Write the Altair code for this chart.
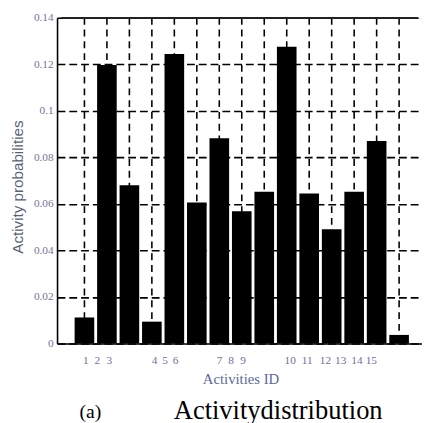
import json
import altair as alt
import pandas as pd

# ---- data ----
activity_ids = list(range(1, 16))
probabilities = [0.0112, 0.1197, 0.0680, 0.0094, 0.1244, 0.0606, 0.0882, 0.0569,
                 0.0652, 0.1276, 0.0645, 0.0491, 0.0652, 0.0871, 0.0037]
grid_ids = list(range(1, 16))
y_ticks = [0, 0.02, 0.04, 0.06, 0.08, 0.10, 0.12, 0.14]
x_tick_labels = [str(i) for i in range(1, 16)]
x_tick_positions = [1.04, 1.55, 2.08, 4.10, 4.56, 5.03, 6.99, 7.50, 8.03,
                    10.13, 10.89, 11.70, 12.38, 13.10, 13.74]
x_max = 15.8
y_max = 0.14
caption_label = ["(a)"]
caption_text = ["Activitydistribution"]

bars_df = pd.DataFrame({"id": activity_ids, "p": probabilities})
grid_df = pd.DataFrame({"id": grid_ids})
cap_a_df = pd.DataFrame({"t": caption_label})
cap_b_df = pd.DataFrame({"t": caption_text})

label_expr = "{}[indexof({}, datum.value)]".format(
    json.dumps(x_tick_labels), json.dumps(x_tick_positions))

x_scale = alt.Scale(domain=[0, x_max], nice=False, zero=False)
y_scale = alt.Scale(domain=[0, y_max], nice=False)

x_axis = alt.Axis(
    values=x_tick_positions, labelExpr=label_expr, grid=False, ticks=False,
    domainColor="black", domainWidth=1.6,
    labelFont="Liberation Serif", labelFontSize=11.5, labelColor="#6f6f98",
    labelPadding=11, labelOverlap=False, labelFlush=False,
    title="Activities ID", titleFont="Liberation Serif", titleFontSize=15,
    titleFontWeight="normal", titleColor="#5a6a98",
    titleX=187, titleY=36, titleBaseline="middle", titleAlign="center",
)
y_axis = alt.Axis(
    values=y_ticks, format=".2~f", grid=True, gridDash=[8, 4], gridColor="black",
    gridWidth=1.6, gridOpacity=1, ticks=False,
    domainColor="black", domainWidth=1.6,
    labelFont="Liberation Serif", labelFontSize=11.5, labelColor="#76729a",
    labelPadding=4,
    title="Activity probabilities", titleFont="Liberation Sans", titleFontSize=15.5,
    titleFontWeight="normal", titleColor="#5a5f78",
    titleAngle=-90, titleX=-40, titleY=172, titleAlign="center",
    titleBaseline="middle",
)

vgrid = alt.Chart(grid_df).mark_rule(
    color="black", strokeDash=[7, 5], strokeWidth=1.6
).encode(x=alt.X("id:Q", scale=x_scale, axis=None))

bars = alt.Chart(bars_df).mark_bar(color="black", size=20).encode(
    x=alt.X("id:Q", scale=x_scale, axis=x_axis),
    y=alt.Y("p:Q", scale=y_scale, axis=y_axis),
)

top_border = alt.Chart(grid_df).mark_rule(color="#222222", strokeWidth=1.8).encode(
    x=alt.XDatum(0, axis=None),
    x2=alt.X2Datum(x_max),
    y=alt.YDatum(y_max, axis=None),
)

cap_a = alt.Chart(cap_a_df).mark_text(
    font="Liberation Serif", fontSize=20, color="black", align="center",
    baseline="alphabetic"
).encode(text="t:N", x=alt.value(34), y=alt.value(408))

cap_b = alt.Chart(cap_b_df).mark_text(
    font="Liberation Serif", fontSize=27, color="black", align="left",
    baseline="alphabetic"
).encode(text="t:N", x=alt.value(119), y=alt.value(409))

chart = alt.layer(vgrid, bars, top_border, cap_a, cap_b).resolve_axis(
    x="independent", y="independent"
).properties(
    width=372, height=332,
    autosize=alt.AutoSizeParams(type="none"),
    padding={"left": 50, "top": 6, "right": 0, "bottom": 77},
).configure_view(stroke=None).configure(background="white")

chart.save("out.html", embed_options={"renderer": "svg", "actions": False})
